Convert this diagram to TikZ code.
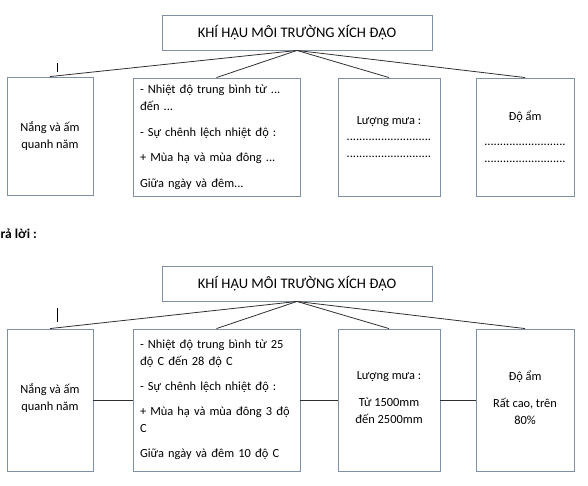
\documentclass[tikz,border=0pt]{standalone}
\usepackage{fontspec}
\setmainfont{Carlito}
\usepackage{xcolor}
\usetikzlibrary{positioning}
\definecolor{boxline}{HTML}{7F8FA6}
\definecolor{linkline}{HTML}{303030}

\begin{document}
\begin{tikzpicture}[
x=1pt, y=-1pt,
box/.style={
rectangle,
draw=boxline,
line width=0.9pt,
minimum height=118pt,
inner sep=0pt,
align=center,
font=\fontsize{12.4}{17}\selectfont
},
tallbox/.style={
box,
minimum height=142pt
},
titlebox/.style={
rectangle,
draw=boxline,
line width=0.9pt,
minimum width=270pt,
minimum height=35pt,
font=\fontsize{14.6}{16}\selectfont
},
link/.style={draw=linkline,line width=0.8pt}
]
\useasboundingbox (0,0) rectangle (588,485);

% Question
\node[titlebox] (title) at (297,32.5) {KHÍ HẬU MÔI TRƯỜNG XÍCH ĐẠO};

\node[box,minimum width=86pt] (sun) at (50,136)
{Nắng và ấm\\quanh năm};

\node[box,minimum width=167pt,text width=153pt,inner xsep=7pt,align=left] (temp) at (216.5,137)
{- Nhiệt độ trung bình từ ...\\đến ...\\[8.5pt]
- Sự chênh lệch nhiệt độ :\\[8.5pt]
+ Mùa hạ và mùa đông ...\\[8.5pt]
Giữa ngày và đêm...};

\node[box,minimum width=102pt] (rain) at (389,137)
{Lượng mưa :\\[-1pt]
...........................\\
...........................};

\node[box,minimum width=98pt] (humid) at (525,137)
{Độ ẩm\\[8pt]
..........................\\
..........................};

\foreach \b in {sun,temp,rain,humid}
  \draw[link] (title.south) -- (\b.north);
\draw[line width=0.8pt] (57,63) -- (57,72);

% Answer
\node[anchor=west,inner sep=0pt,font=\fontsize{13.5}{15}\selectfont\bfseries] (answer) at (0.5,234) {rả lời :};

\node[titlebox] (title2) at (297,283.5) {KHÍ HẬU MÔI TRƯỜNG XÍCH ĐẠO};

\node[tallbox,minimum width=86pt,text depth=6pt] (sun2) at (50,400)
{Nắng và ấm\\quanh năm};

\node[tallbox,minimum width=167pt,text width=153pt,inner xsep=7pt,align=left] (temp2) at (216.5,400)
{- Nhiệt độ trung bình từ 25\\độ C đến 28 độ C\\[8pt]
- Sự chênh lệch nhiệt độ :\\[8pt]
+ Mùa hạ và mùa đông 3 độ\\C\\[8pt]
Giữa ngày và đêm 10 độ C};

\node[tallbox,minimum width=102pt,text depth=4pt] (rain2) at (389,400)
{Lượng mưa :\\[10pt]
Từ 1500mm\\đến 2500mm};

\node[tallbox,minimum width=98pt,text depth=4pt] (humid2) at (525,400)
{Độ ẩm\\[10pt]
Rất cao, trên\\80\%};

\foreach \b in {sun2,temp2,rain2,humid2}
  \draw[link] (title2.south) -- (\b.north);
\draw[line width=0.8pt] (57,308) -- (57,322);

\draw[link] (sun2.east) -- (temp2.west);
\draw[link] (temp2.east) -- (rain2.west);
\draw[link] (rain2.east) -- (humid2.west);

\end{tikzpicture}
\end{document}
